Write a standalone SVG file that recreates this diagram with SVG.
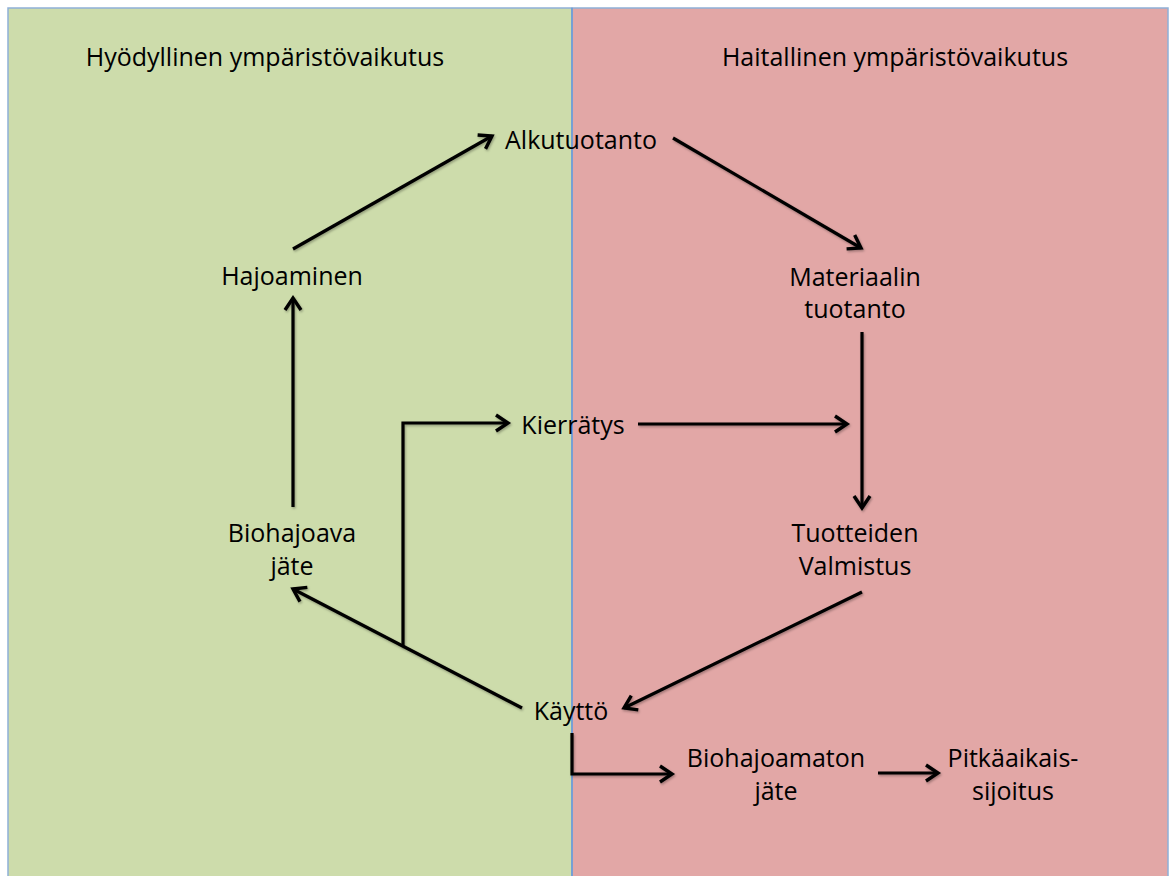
<svg xmlns="http://www.w3.org/2000/svg" width="1173" height="876" viewBox="0 0 1173 876">
  <style>
    .zone-good { fill: #cddcab; stroke: #8eb0d8; stroke-width: 1.5; }
    .zone-bad { fill: #e2a7a6; stroke: #8eb0d8; stroke-width: 1.5; }
    .divider { stroke: #6a9bd6; stroke-width: 1.5; }
    .label { font-family: "Open Sans", "Liberation Sans", sans-serif; font-size: 25px; fill: #000; text-anchor: middle; }
    .conn { fill: none; stroke: #000; stroke-width: 3.2; marker-end: url(#arrow); filter: url(#shadow); }
  </style>
  <defs>
    <marker id="arrow" markerUnits="userSpaceOnUse" markerWidth="22" markerHeight="22" viewBox="0 0 22 22" refX="17" refY="11" orient="auto">
      <path d="M5,3 L17,11 L5,19" fill="none" stroke="#000" stroke-width="3.4" stroke-linejoin="miter"/>
    </marker>
    <filter id="shadow" filterUnits="userSpaceOnUse" x="0" y="0" width="1173" height="876">
      <feDropShadow dx="1" dy="1.5" stdDeviation="1" flood-color="#000" flood-opacity="0.3"/>
    </filter>
  </defs>

  <!-- background zones -->
  <g id="zone-beneficial">
    <rect class="zone-good" x="8" y="8" width="564" height="880"/>
    <text class="label" x="265" y="66">Hyödyllinen ympäristövaikutus</text>
  </g>
  <g id="zone-harmful">
    <rect class="zone-bad" x="572" y="8" width="596" height="880"/>
    <text class="label" x="895" y="66">Haitallinen ympäristövaikutus</text>
  </g>
  <line class="divider" x1="572" y1="8" x2="572" y2="876"/>

  <!-- connectors -->
  <g id="connectors">
    <line class="conn" x1="293" y1="249" x2="492" y2="136"/>
    <line class="conn" x1="673" y1="138" x2="861" y2="248"/>
    <line class="conn" x1="862" y1="332" x2="862" y2="508"/>
    <line class="conn" x1="293" y1="507" x2="293" y2="298"/>
    <line class="conn" x1="862" y1="592" x2="624" y2="708"/>
    <line class="conn" x1="522" y1="708" x2="293" y2="589"/>
    <polyline class="conn" points="403,647 403,423 508,423"/>
    <line class="conn" x1="638" y1="424" x2="847" y2="424"/>
    <polyline class="conn" points="572,733 572,774 672,774"/>
    <line class="conn" x1="878" y1="773" x2="938" y2="773"/>
  </g>

  <!-- nodes -->
  <g id="node-alkutuotanto">
    <text class="label" x="581" y="149">Alkutuotanto</text>
  </g>
  <g id="node-materiaalin-tuotanto">
    <text class="label" x="855" y="286">Materiaalin</text>
    <text class="label" x="855" y="318">tuotanto</text>
  </g>
  <g id="node-tuotteiden-valmistus">
    <text class="label" x="855" y="542">Tuotteiden</text>
    <text class="label" x="855" y="575">Valmistus</text>
  </g>
  <g id="node-kaytto">
    <text class="label" x="571" y="720">Käyttö</text>
  </g>
  <g id="node-biohajoava">
    <text class="label" x="292" y="542">Biohajoava</text>
    <text class="label" x="292" y="575">jäte</text>
  </g>
  <g id="node-hajoaminen">
    <text class="label" x="292" y="285">Hajoaminen</text>
  </g>
  <g id="node-kierratys">
    <text class="label" x="573" y="434">Kierrätys</text>
  </g>
  <g id="node-biohajoamaton">
    <text class="label" x="776" y="767">Biohajoamaton</text>
    <text class="label" x="776" y="800">jäte</text>
  </g>
  <g id="node-pitkaaikaissijoitus">
    <text class="label" x="1013" y="767">Pitkäaikais-</text>
    <text class="label" x="1013" y="800">sijoitus</text>
  </g>
</svg>
